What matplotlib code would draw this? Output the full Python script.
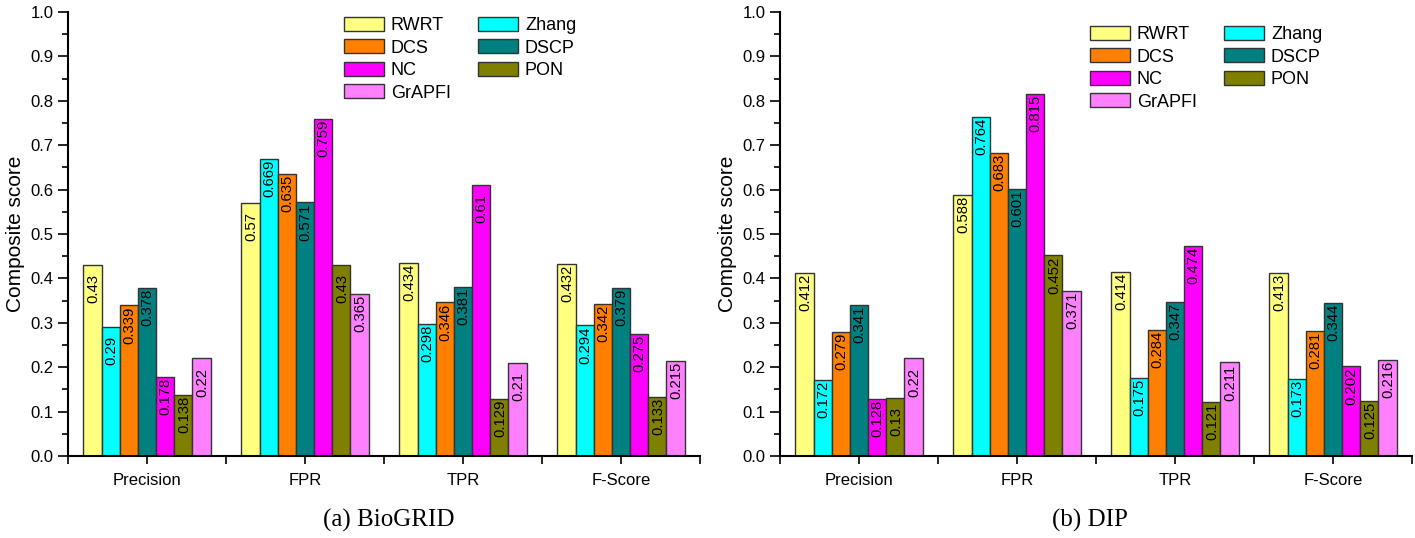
import matplotlib
matplotlib.use("Agg")
import matplotlib.pyplot as plt
import numpy as np
from matplotlib.patches import Patch
from matplotlib.ticker import MultipleLocator

plt.rcParams['font.family'] = ['Liberation Sans', 'DejaVu Sans']

categories = ["Precision", "FPR", "TPR", "F-Score"]
methods = ["RWRT", "Zhang", "DCS", "DSCP", "NC", "PON", "GrAPFI"]
colors = ["#FFFF80", "#00FFFF", "#FF8000", "#008080", "#FF00FF", "#808000", "#FF80FF"]

# values per method, across categories (Precision, FPR, TPR, F-Score)
biogrid_RWRT = [0.43, 0.57, 0.434, 0.432]
biogrid_Zhang = [0.29, 0.669, 0.298, 0.294]
biogrid_DCS = [0.339, 0.635, 0.346, 0.342]
biogrid_DSCP = [0.378, 0.571, 0.381, 0.379]
biogrid_NC = [0.178, 0.759, 0.61, 0.275]
biogrid_PON = [0.138, 0.43, 0.129, 0.133]
biogrid_GrAPFI = [0.22, 0.365, 0.21, 0.215]

dip_RWRT = [0.412, 0.588, 0.414, 0.413]
dip_Zhang = [0.172, 0.764, 0.175, 0.173]
dip_DCS = [0.279, 0.683, 0.284, 0.281]
dip_DSCP = [0.341, 0.601, 0.347, 0.344]
dip_NC = [0.128, 0.815, 0.474, 0.202]
dip_PON = [0.13, 0.452, 0.121, 0.125]
dip_GrAPFI = [0.22, 0.371, 0.211, 0.216]

biogrid = [biogrid_RWRT, biogrid_Zhang, biogrid_DCS, biogrid_DSCP, biogrid_NC, biogrid_PON, biogrid_GrAPFI]
dip = [dip_RWRT, dip_Zhang, dip_DCS, dip_DSCP, dip_NC, dip_PON, dip_GrAPFI]

W, H = 1415, 538
fig = plt.figure(figsize=(W / 100, H / 100), dpi=100)

panels = [
    (biogrid, [68, 700], "(a) BioGRID", 389, (344, 17)),
    (dip, [780, 1412], "(b) DIP", 1090, (1090, 26)),
]

bw = 0.115
x = np.arange(len(categories))

for data, (xl, xr), caption, cx, (lx, ly) in panels:
    ax = fig.add_axes([xl / W, 1 - 456 / H, (xr - xl) / W, (456 - 12) / H])
    for i, (vals, c) in enumerate(zip(data, colors)):
        pos = x + (i - 3) * bw
        bars = ax.bar(pos, vals, width=bw, color=c, edgecolor="#333333", linewidth=1.0, zorder=2)
        for b, v in zip(bars, vals):
            ax.annotate(f"{v:g}", xy=(b.get_x() + b.get_width() / 2, v), xytext=(0.5, -27.5),
                        textcoords="offset points", rotation=90, ha="center", va="bottom",
                        fontsize=10.7, color="black", zorder=3)
    ax.set_xlim(-0.5, 3.5)
    ax.set_ylim(0, 1.0)
    ax.yaxis.set_major_locator(MultipleLocator(0.1))
    ax.yaxis.set_minor_locator(MultipleLocator(0.05))
    ax.set_yticklabels([f"{t:.1f}" for t in ax.get_yticks()])
    ax.set_xticks(x)
    ax.set_xticklabels(categories)
    ax.set_xticks(np.arange(-0.5, 4.0, 1.0), minor=True)
    ax.tick_params(axis="y", which="major", direction="out", length=7, width=1.2, labelsize=12)
    ax.tick_params(axis="y", which="minor", direction="out", length=4, width=1.2)
    ax.tick_params(axis="x", which="both", direction="out", length=6, width=1.2, labelsize=12, pad=6)
    for s in ["top", "right"]:
        ax.spines[s].set_visible(False)
    for s in ["left", "bottom"]:
        ax.spines[s].set_linewidth(1.5)
    ax.set_ylabel("Composite score", fontsize=15, labelpad=4)

    # legend arranged row-wise: RWRT Zhang / DCS DSCP / NC PON / GrAPFI
    handles = [Patch(facecolor=c, edgecolor="#333333", linewidth=1.0) for c in colors]
    order = [0, 2, 4, 6, 1, 3, 5]
    leg = ax.legend([handles[k] for k in order], [methods[k] for k in order], ncol=2,
                    frameon=False, fontsize=13, handlelength=2.2, handleheight=0.78,
                    labelspacing=0.3, columnspacing=1.5, handletextpad=0.4,
                    loc="upper left", bbox_to_anchor=((lx - xl) / (xr - xl), 1 - (ly - 12) / 444),
                    borderaxespad=0, borderpad=0)

    fig.text(cx / W, 1 - 520 / H, caption, ha="center", va="center",
             fontsize=18, family="Liberation Serif")

fig.savefig("out.png", dpi=100)
